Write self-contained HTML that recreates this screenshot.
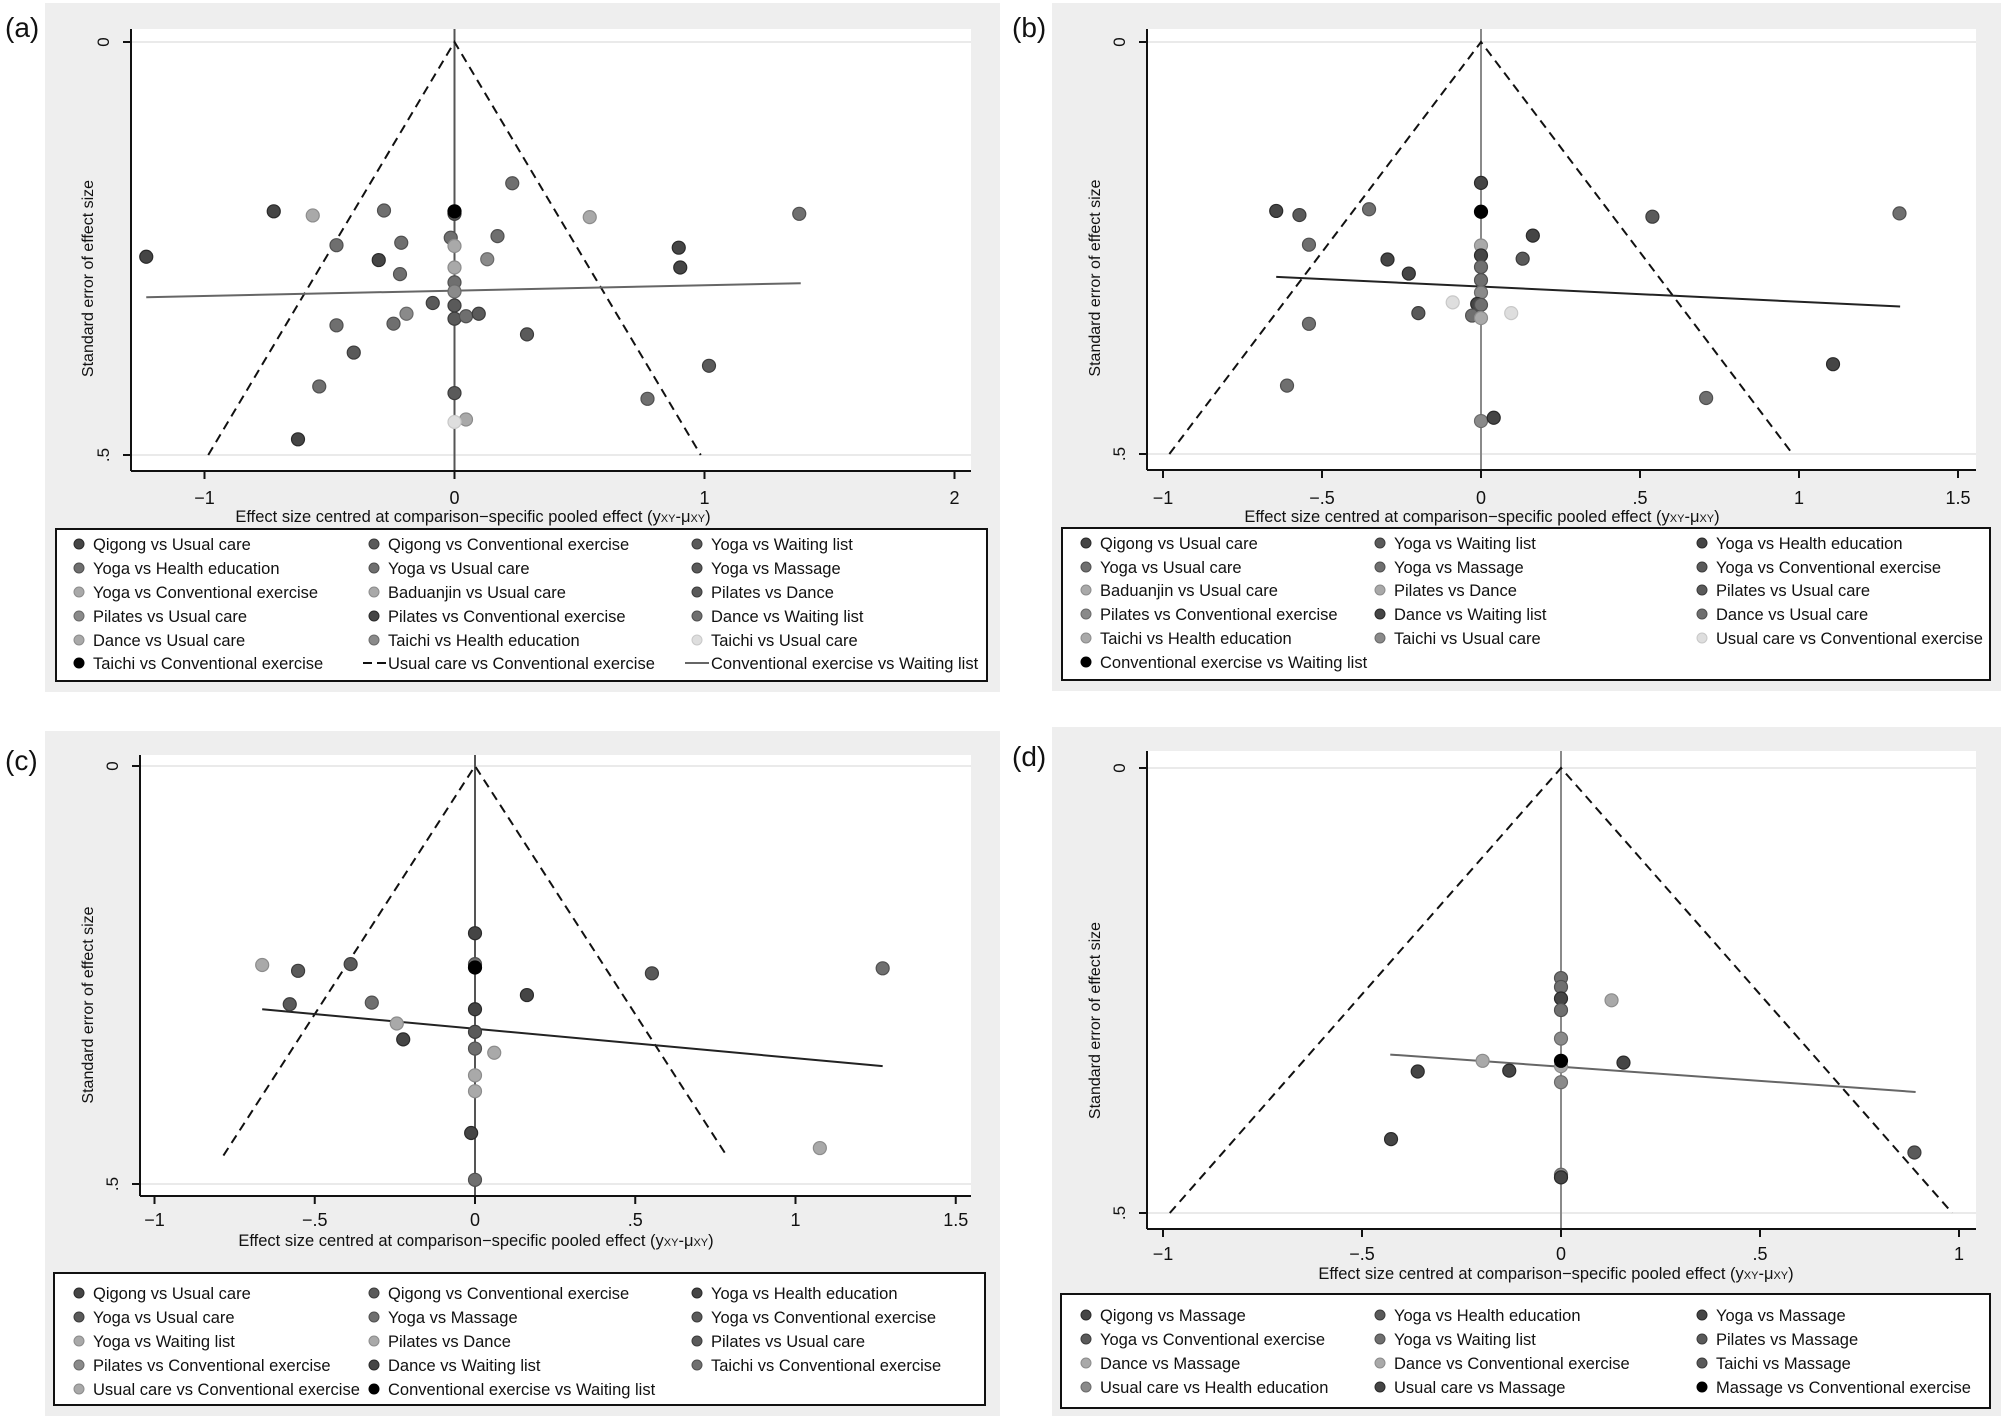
<!DOCTYPE html>
<html><head><meta charset="utf-8"><style>
html,body{margin:0;padding:0;background:#fff;}
svg{display:block;font-family:"Liberation Sans",Arial,sans-serif;}
</style></head><body>
<svg id="fig" width="2001" height="1418" viewBox="0 0 2001 1418" xmlns="http://www.w3.org/2000/svg"></svg>
<script>
// ---------- DATA ----------
// Panel (a)
const aX=[-1.233,-0.723,-0.567,-0.282,0,0,0.231,0.541,1.379,-0.472,-0.213,-0.015,0,0.172,-0.303,0.131,0,0.897,0.903,-0.218,0,0,-0.087,0,0,0.046,0.097,-0.192,-0.244,-0.472,0.290,-0.403,1.018,-0.541,0,0.772,0.046,0,-0.626];
const aY=[0.260,0.205,0.210,0.204,0.208,0.205,0.171,0.212,0.208,0.246,0.243,0.237,0.247,0.235,0.264,0.263,0.273,0.249,0.273,0.281,0.291,0.302,0.316,0.319,0.335,0.332,0.329,0.329,0.341,0.343,0.354,0.376,0.392,0.417,0.425,0.432,0.457,0.460,0.481];
const aShade=[0,0,4,2,1,6,2,4,2,2,2,2,4,2,0,3,4,0,0,2,2,3,1,1,1,2,1,3,2,2,1,1,1,2,1,2,4,5,0];
const aReg=[-1.233,0.309,1.385,0.292];
const aFunnel=[0.985,0.5];
const aTicks=[-1,0,1,2];
const aTickLabels=["\u22121","0","1","2"];
const aLegend=["Qigong vs Usual care","Qigong vs Conventional exercise","Yoga vs Waiting list","Yoga vs Health education","Yoga vs Usual care","Yoga vs Massage","Yoga vs Conventional exercise","Baduanjin vs Usual care","Pilates vs Dance","Pilates vs Usual care","Pilates vs Conventional exercise","Dance vs Waiting list","Dance vs Usual care","Taichi vs Health education","Taichi vs Usual care","Taichi vs Conventional exercise","Usual care vs Conventional exercise","Conventional exercise vs Waiting list"];
const aLegendShade=[0,1,1,2,2,1,4,4,1,3,0,2,4,3,5,6,"dash","line"];

// Panel (b)
const bX=[0,-0.644,-0.571,-0.352,0,0.539,1.316,-0.541,0.163,-0.294,0.131,0,0,0,-0.227,0,0,-0.089,-0.012,0,-0.197,-0.028,0,0.095,-0.541,1.107,-0.610,0.708,0,0.040];
const bY=[0.171,0.205,0.210,0.203,0.206,0.212,0.208,0.246,0.235,0.264,0.263,0.247,0.259,0.273,0.281,0.289,0.304,0.316,0.318,0.319,0.329,0.332,0.335,0.329,0.342,0.391,0.417,0.432,0.460,0.456];
const bShade=[0,0,1,2,6,1,2,2,0,0,1,4,0,2,0,2,3,5,0,2,1,2,4,5,2,0,2,2,3,0];
const bReg=[-0.644,0.285,1.318,0.321];
const bFunnel=[0.98,0.5];
const bTicks=[-1,-0.5,0,0.5,1,1.5];
const bTickLabels=["\u22121","\u2212.5","0",".5","1","1.5"];
const bLegend=["Qigong vs Usual care","Yoga vs Waiting list","Yoga vs Health education","Yoga vs Usual care","Yoga vs Massage","Yoga vs Conventional exercise","Baduanjin vs Usual care","Pilates vs Dance","Pilates vs Usual care","Pilates vs Conventional exercise","Dance vs Waiting list","Dance vs Usual care","Taichi vs Health education","Taichi vs Usual care","Usual care vs Conventional exercise","Conventional exercise vs Waiting list"];
const bLegendShade=[0,1,0,2,2,1,4,4,1,3,0,2,4,3,5,6];

// Panel (c)
const cX=[0,-0.664,-0.552,-0.388,0,0,0.552,1.272,-0.578,-0.322,0.162,0,-0.244,-0.224,0,0,0.060,0,0,-0.012,1.076,0];
const cY=[0.200,0.238,0.245,0.237,0.237,0.241,0.248,0.242,0.285,0.283,0.274,0.291,0.308,0.327,0.318,0.338,0.343,0.370,0.389,0.439,0.457,0.495];
const cShade=[0,4,1,1,2,6,1,2,1,2,0,0,4,0,1,2,4,4,4,0,4,2];
const cReg=[-0.664,0.291,1.272,0.359];
const cFunnel=[0.785,0.466];
const cTicks=[-1,-0.5,0,0.5,1,1.5];
const cTickLabels=["\u22121","\u2212.5","0",".5","1","1.5"];
const cLegend=["Qigong vs Usual care","Qigong vs Conventional exercise","Yoga vs Health education","Yoga vs Usual care","Yoga vs Massage","Yoga vs Conventional exercise","Yoga vs Waiting list","Pilates vs Dance","Pilates vs Usual care","Pilates vs Conventional exercise","Dance vs Waiting list","Taichi vs Conventional exercise","Usual care vs Conventional exercise","Conventional exercise vs Waiting list"];
const cLegendShade=[0,1,0,1,2,1,4,4,1,3,0,2,4,6];

// Panel (d)
const dX=[0,0,0,0,0.127,0,-0.197,0,0,0.157,-0.360,-0.130,0,-0.427,0.888,0,0];
const dY=[0.236,0.246,0.259,0.272,0.261,0.304,0.329,0.335,0.329,0.331,0.341,0.340,0.353,0.417,0.432,0.457,0.460];
const dShade=[2,2,0,2,4,3,4,4,6,0,0,0,3,0,1,3,0];
const dReg=[-0.429,0.322,0.891,0.364];
const dFunnel=[0.983,0.5];
const dTicks=[-1,-0.5,0,0.5,1];
const dTickLabels=["\u22121","\u2212.5","0",".5","1"];
const dLegend=["Qigong vs Massage","Yoga vs Health education","Yoga vs Massage","Yoga vs Conventional exercise","Yoga vs Waiting list","Pilates vs Massage","Dance vs Massage","Dance vs Conventional exercise","Taichi vs Massage","Usual care vs Health education","Usual care vs Massage","Massage vs Conventional exercise"];
const dLegendShade=[0,1,0,1,2,1,4,4,1,3,0,6];

// ---------- RENDERING ----------
const FILL=["#454545","#5a5a5a","#6f6f6f","#8a8a8a","#a9a9a9","#dedede","#000000"];
const STROKE=["#2a2a2a","#3c3c3c","#505050","#6a6a6a","#8c8c8c","#c8c8c8","#000000"];
const NS="http://www.w3.org/2000/svg";
const svg=document.getElementById('fig');
function mk(tag,attrs,parent){const e=document.createElementNS(NS,tag);for(const k in attrs)e.setAttribute(k,attrs[k]);(parent||svg).appendChild(e);return e;}

const panels=[
 {id:"a",lab:"(a)",labY:37,gray:[45,3,1000,692],plot:[131,29,971,471],x0:454.5,xs:250,y0:42,ys:826,tickY:504,titleY:522,titleX:473,
  X:aX,Y:aY,S:aShade,R:aReg,F:aFunnel,T:aTicks,TL:aTickLabels,L:aLegend,LS:aLegendShade,zeroColor:"#555",
  leg:[56,529,987,681],rows:[544,568,592,616,640,663],cols:[79,374,697],ytX:87},
 {id:"b",lab:"(b)",labY:37,gray:[1052,3,2001,691],plot:[1147,29,1976,470],x0:1481,xs:318,y0:42,ys:824,tickY:504,titleY:522,titleX:1482,
  X:bX,Y:bY,S:bShade,R:bReg,F:bFunnel,T:bTicks,TL:bTickLabels,L:bLegend,LS:bLegendShade,zeroColor:"#8a8a8a",
  leg:[1062,528,1990,680],rows:[543,567,590,614,638,662],cols:[1086,1380,1702],ytX:1094},
 {id:"c",lab:"(c)",labY:770,gray:[45,731,1000,1416],plot:[140,755,971,1196],x0:475,xs:320.5,y0:766,ys:836,tickY:1226,titleY:1246,titleX:476,
  X:cX,Y:cY,S:cShade,R:cReg,F:cFunnel,T:cTicks,TL:cTickLabels,L:cLegend,LS:cLegendShade,zeroColor:"#555",
  leg:[54,1273,985,1405],rows:[1293,1317,1341,1365,1389],cols:[79,374,697],ytX:87},
 {id:"d",lab:"(d)",labY:766,gray:[1052,727,2001,1416],plot:[1147,751,1976,1229],x0:1561,xs:398,y0:768,ys:890,tickY:1260,titleY:1279,titleX:1556,
  X:dX,Y:dY,S:dShade,R:dReg,F:dFunnel,T:dTicks,TL:dTickLabels,L:dLegend,LS:dLegendShade,zeroColor:"#8a8a8a",
  leg:[1061,1294,1990,1408],rows:[1315,1339,1363,1387],cols:[1086,1380,1702],ytX:1094}
];

panels.forEach(p=>{
  const xS=v=>p.x0+v*p.xs;
  const yS=v=>p.y0+v*p.ys;
  const g=mk('g',{});
  
  
  const bg=mk('rect',{x:p.gray[0],y:p.gray[1],width:p.gray[2]-p.gray[0],height:p.gray[3]-p.gray[1],fill:"#eeeeee"},g);
  
  
  const lab=mk('text',{x:p.gray[0]-40,y:p.labY,'font-size':28,fill:"#111"},g);
  lab.textContent=p.lab;
  
  
  const [L,T,R,B]=p.plot;
  const pa=mk('rect',{x:L,y:T,width:R-L,height:B-T,fill:"#fff"},g);
  
  
  [0,0.5].forEach(v=>{
    const gl=mk('line',{x1:L,x2:R,y1:yS(v),y2:yS(v),stroke:"#e4e4e4","stroke-width":1.5},g);
    
    
  });
  const zl=mk('line',{x1:xS(0),x2:xS(0),y1:T,y2:B,stroke:p.zeroColor,"stroke-width":2},g);
  
  
  const fp=mk('polyline',{points:`${xS(-p.F[0])},${yS(p.F[1])} ${xS(0)},${yS(0)} ${xS(p.F[0])},${yS(p.F[1])}`,fill:"none",stroke:"#111","stroke-width":2,"stroke-dasharray":"9,6"},g);
  
  
  const rl=mk('line',{x1:xS(p.R[0]),y1:yS(p.R[1]),x2:xS(p.R[2]),y2:yS(p.R[3]),stroke:(p.id==="a"||p.id==="d")?"#666":"#222","stroke-width":2},g);
  
  
  p.X.forEach((xv,i)=>{
    const s=p.S[i];
    const c=mk('circle',{cx:xS(xv),cy:yS(p.Y[i]),r:6.5,fill:FILL[s],stroke:STROKE[s],"stroke-width":1.2},g);
    
    
  });
  const ya=mk('line',{x1:L,x2:L,y1:T,y2:B,stroke:"#111","stroke-width":2},g);
  
  
  const xa=mk('line',{x1:L,x2:R,y1:B,y2:B,stroke:"#111","stroke-width":2},g);
  
  
  p.T.forEach((tv,i)=>{
    mk('line',{x1:xS(tv),x2:xS(tv),y1:B,y2:B+8,stroke:"#111","stroke-width":2},g);
    const tl=mk('text',{x:xS(tv),y:p.tickY,'font-size':18,'text-anchor':'middle',fill:"#111"},g);
    tl.textContent=p.TL[i];
    
    
  });
  [[0,"0"],[0.5,".5"]].forEach(([v,t])=>{
    mk('line',{x1:L-8,x2:L,y1:yS(v),y2:yS(v),stroke:"#111","stroke-width":2},g);
    const tl=mk('text',{x:0,y:0,'font-size':17,'text-anchor':'middle',fill:"#111",transform:`translate(${L-22},${yS(v)}) rotate(-90)`},g);
    tl.textContent=t;
    
    
  });
  const xt=mk('text',{x:p.titleX,y:p.titleY,'font-size':16.5,'text-anchor':'middle',fill:"#111"},g);
  xt.innerHTML='Effect size centred at comparison\u2212specific pooled effect (y<tspan font-size="11">XY</tspan>-\u03bc<tspan font-size="11">XY</tspan>)';
  
  
  const ytc=(yS(0)+yS(0.5))/2+30;
  const yt=mk('text',{x:0,y:0,'font-size':16,'text-anchor':'middle',fill:"#111",transform:`translate(${p.ytX+6},${ytc}) rotate(-90)`},g);
  yt.textContent='Standard error of effect size';
  
  
  const lg=mk('g',{},g);
  
  
  mk('rect',{x:p.leg[0],y:p.leg[1],width:p.leg[2]-p.leg[0],height:p.leg[3]-p.leg[1],fill:"#fff",stroke:"#111","stroke-width":2},lg);
  p.L.forEach((name,i)=>{
    const row=Math.floor(i/3),col=i%3;
    const mx=p.cols[col],my=p.rows[row];
    const e=mk('g',{},lg);
    
    
    const s=p.LS[i];
    if(s==="dash"){
      mk('line',{x1:mx-11,x2:mx+12,y1:my,y2:my,stroke:"#111","stroke-width":2,"stroke-dasharray":"9,5"},e);
    }else if(s==="line"){
      mk('line',{x1:mx-12,x2:mx+12,y1:my,y2:my,stroke:"#666","stroke-width":2},e);
    }else{
      mk('circle',{cx:mx,cy:my,r:5,fill:FILL[s],stroke:STROKE[s],"stroke-width":1},e);
    }
    const t=mk('text',{x:mx+14,y:my+6,'font-size':16.5,fill:"#111"},e);
    t.textContent=name;
  });
});
</script>
</body></html>
